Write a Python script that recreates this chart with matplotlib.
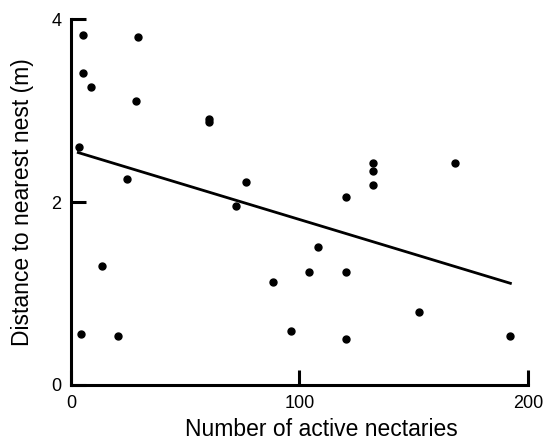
import numpy as np
import matplotlib
matplotlib.use("Agg")
import matplotlib.pyplot as plt

plt.rcParams["font.family"] = ["Liberation Sans", "DejaVu Sans"]

# Data
nectaries = [5.4, 29.4, 5.4, 8.6, 28.5, 60.4, 60.4, 3.6, 24.5, 76.4, 72.2,
             13.4, 4.5, 20.5,
             132.3, 132.3, 132.3, 168.1, 120.2, 108.1, 104.2, 120.2, 88.4,
             152.1, 96.4, 120.2, 192.0]
distance = [3.83, 3.80, 3.41, 3.26, 3.11, 2.88, 2.91, 2.60, 2.25, 2.22, 1.96,
            1.30, 0.56, 0.53,
            2.43, 2.34, 2.19, 2.43, 2.05, 1.51, 1.24, 1.24, 1.12,
            0.80, 0.59, 0.50, 0.53]

# regression line as drawn in the figure
fit_intercept = 2.565
fit_slope = -0.00756
fit_range = [3.2, 192.3]

fig = plt.figure(figsize=(5.46, 4.46), dpi=100)
ax = fig.add_axes([0.13, 0.137, 0.837, 0.820])

ax.plot(nectaries, distance, "o", color="black", markersize=5, zorder=3)
fx = np.array(fit_range)
ax.plot(fx, fit_intercept + fit_slope * fx, color="black", linewidth=2.0)

ax.set_xlim(0, 200)
ax.set_ylim(0, 4)
ax.set_xticks([0, 100, 200])
ax.set_yticks([0, 2, 4])
for s in ["top", "right"]:
    ax.spines[s].set_visible(False)
for s in ["left", "bottom"]:
    ax.spines[s].set_linewidth(2.2)
ax.tick_params(direction="in", length=11, width=2.2, labelsize=13, pad=7)
ax.set_xlabel("Number of active nectaries", fontsize=16.5)
ax.xaxis.set_label_coords(0.548, -0.09)
ax.set_ylabel("Distance to nearest nest (m)", fontsize=16.5, labelpad=12)

fig.savefig("out.png", dpi=100)
